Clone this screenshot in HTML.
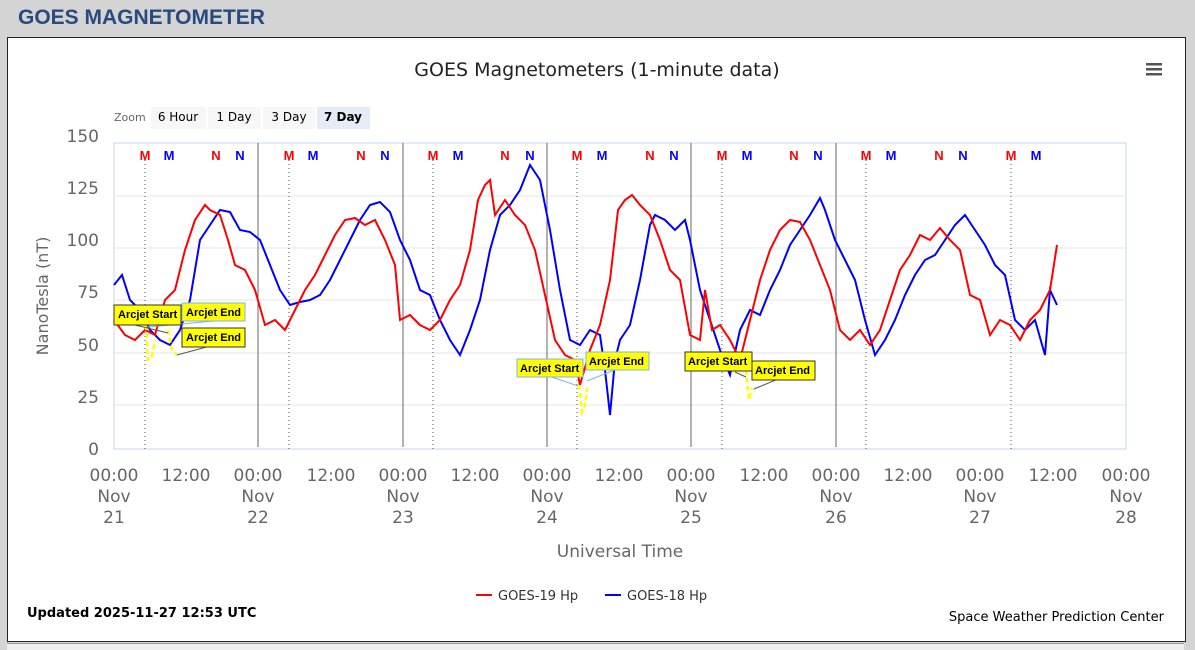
<!DOCTYPE html>
<html><head><meta charset="utf-8"><style>
body{margin:0;width:1195px;height:649px;background:#d4d4d4;overflow:hidden;font-family:"Liberation Sans",sans-serif}
.hdr{position:absolute;left:18px;top:6px;font:bold 21px "Liberation Sans",sans-serif;color:#2a4a7f}
.panel{position:absolute;left:7px;top:37px;width:1177px;height:603px;background:#fff;border:1px solid #222}
svg{position:absolute;left:0;top:0}
.t{font-family:"DejaVu Sans",sans-serif}
</style></head><body>
<div class="hdr">GOES MAGNETOMETER</div>
<div class="panel"></div>
<div style="position:absolute;left:7px;top:643px;width:1177px;height:6px;background:#eee;border-top:1px solid #999"></div>
<svg width="1195" height="649" viewBox="0 0 1195 649">
<text x="597" y="76" text-anchor="middle" class="t" font-size="19" fill="#222">GOES Magnetometers (1-minute data)</text>
<g fill="#555"><rect x="1146" y="63" width="16" height="2.5"/><rect x="1146" y="68" width="16" height="2.5"/><rect x="1146" y="73" width="16" height="2.5"/></g>
<text x="114" y="121" class="t" font-size="11" fill="#666">Zoom</text>
<rect x="151" y="107" width="55" height="22" fill="#f7f7f7"/><text x="178" y="121" text-anchor="middle" class="t" font-size="12">6 Hour</text>
<rect x="208" y="107" width="53" height="22" fill="#f7f7f7"/><text x="234" y="121" text-anchor="middle" class="t" font-size="12">1 Day</text>
<rect x="263" y="107" width="52" height="22" fill="#f7f7f7"/><text x="289" y="121" text-anchor="middle" class="t" font-size="12">3 Day</text>
<rect x="317" y="107" width="53" height="22" fill="#e6ebf5"/><text x="343" y="121" text-anchor="middle" class="t" font-size="12" font-weight="bold">7 Day</text>
<rect x="114" y="143" width="1012" height="306" fill="none" stroke="#ccd6eb"/>
<g stroke="#e6e6e6"><line x1="114" x2="1126" y1="196" y2="196"/><line x1="114" x2="1126" y1="248" y2="248"/><line x1="114" x2="1126" y1="300" y2="300"/><line x1="114" x2="1126" y1="353" y2="353"/><line x1="114" x2="1126" y1="405" y2="405"/></g>
<g font-size="17" fill="#666" class="t" text-anchor="end"><text x="99" y="142">150</text><text x="99" y="194">125</text><text x="99" y="246">100</text><text x="99" y="298">75</text><text x="99" y="351">50</text><text x="99" y="403">25</text><text x="99" y="455">0</text></g>
<text transform="translate(48,296) rotate(-90)" text-anchor="middle" class="t" font-size="16" fill="#666">NanoTesla (nT)</text>
<g stroke="#666"><line x1="258" x2="258" y1="143" y2="447"/><line x1="403" x2="403" y1="143" y2="447"/><line x1="547" x2="547" y1="143" y2="447"/><line x1="691" x2="691" y1="143" y2="447"/><line x1="836" x2="836" y1="143" y2="447"/></g>
<g stroke="#555" stroke-dasharray="1,3"><line x1="145" x2="145" y1="160" y2="449"/><line x1="289" x2="289" y1="160" y2="449"/><line x1="433" x2="433" y1="160" y2="449"/><line x1="577" x2="577" y1="160" y2="449"/><line x1="722" x2="722" y1="160" y2="449"/><line x1="866" x2="866" y1="160" y2="449"/><line x1="1011" x2="1011" y1="160" y2="449"/></g>
<g font-size="13" font-weight="bold" text-anchor="middle" font-family="Liberation Sans">
<g fill="#f00"><text x="145" y="160">M</text><text x="289" y="160">M</text><text x="433" y="160">M</text><text x="577" y="160">M</text><text x="722" y="160">M</text><text x="866" y="160">M</text><text x="1011" y="160">M</text>
<text x="216" y="160">N</text><text x="361" y="160">N</text><text x="505" y="160">N</text><text x="650" y="160">N</text><text x="794" y="160">N</text><text x="939" y="160">N</text></g>
<g fill="#00f"><text x="169" y="160">M</text><text x="313" y="160">M</text><text x="458" y="160">M</text><text x="602" y="160">M</text><text x="747" y="160">M</text><text x="891" y="160">M</text><text x="1036" y="160">M</text>
<text x="240" y="160">N</text><text x="385" y="160">N</text><text x="530" y="160">N</text><text x="674" y="160">N</text><text x="818" y="160">N</text><text x="963" y="160">N</text></g></g>
<polyline fill="none" stroke="#00f" stroke-width="2" points="114,285 122,275 130,300 140,310 150,330 160,340 170,345 180,330 190,300 200,240 210,225 220,210 230,212 240,230 250,232 260,240 270,265 280,290 290,305 300,302 310,300 320,295 330,280 340,260 350,240 360,220 370,205 380,202 390,212 400,240 410,260 420,290 430,295 440,320 450,340 460,355 470,330 480,300 490,250 500,215 510,205 520,190 530,165 540,180 550,230 560,290 570,340 580,345 590,330 600,335 605,370 610,415 615,360 620,340 630,325 640,280 650,225 655,215 665,220 675,230 685,220 690,240 700,290 710,320 720,350 730,375 740,330 750,310 760,315 770,290 780,270 790,245 800,230 810,215 820,198 825,210 835,240 845,260 855,280 865,320 875,355 885,340 895,320 905,295 915,275 925,260 935,255 945,240 955,225 965,215 975,230 985,245 995,265 1005,275 1015,320 1025,330 1035,320 1045,355 1050,290 1057,305"/>
<polyline fill="none" stroke="#f00" stroke-width="2" points="114,320 125,335 135,340 145,330 155,335 165,300 175,290 185,250 195,220 205,205 210,210 220,215 228,240 235,265 245,270 255,290 265,325 275,320 285,330 295,310 305,290 315,275 325,255 335,235 345,220 355,218 365,225 375,220 385,240 395,265 400,320 410,315 420,325 430,330 440,320 450,300 460,285 470,250 478,200 485,185 490,180 495,215 505,200 515,215 525,225 535,250 545,295 555,340 565,355 575,360 580,385 590,350 600,325 610,280 618,210 625,200 632,195 640,205 650,215 660,240 670,270 680,280 690,335 700,340 705,290 712,330 720,325 730,340 740,360 750,320 760,280 770,250 780,230 790,220 800,222 810,240 820,265 830,290 840,330 850,340 860,330 870,345 880,330 890,300 900,270 910,255 920,235 930,240 940,228 950,240 960,250 970,295 980,300 990,335 1000,320 1010,325 1020,340 1030,320 1040,310 1050,290 1057,245"/>
<g fill="none" stroke="#ff0" stroke-width="2.5" stroke-dasharray="5,3"><polyline points="146,325 148,360 152,357 155,340"/><polyline points="168,330 172,350 177,355"/><polyline points="579,385 582,412 585,405 587,388"/><polyline points="746,370 749,400 752,388"/></g>
<g stroke="#555" fill="none"><line x1="135" y1="325" x2="168" y2="333"/><line x1="177" y1="355" x2="214" y2="345"/><line x1="735" y1="372" x2="746" y2="377"/><line x1="754" y1="389" x2="783" y2="377"/></g>
<g stroke="#7cb5ec" fill="none"><line x1="148" y1="327" x2="214" y2="321"/><line x1="549" y1="376" x2="578" y2="386"/><line x1="587" y1="381" x2="617" y2="369"/></g>
<g font-family="Liberation Sans" font-size="11" font-weight="bold">
<rect x="114" y="305" width="67" height="20" fill="#ff0" stroke="#333"/><text x="118" y="318">Arcjet Start</text>
<rect x="182" y="303" width="63" height="18" fill="#ff0" stroke="#7cb5ec"/><text x="186" y="316">Arcjet End</text>
<rect x="182" y="328" width="63" height="19" fill="#ff0" stroke="#333"/><text x="186" y="341">Arcjet End</text>
<rect x="517" y="359" width="66" height="18" fill="#ff0" stroke="#7cb5ec"/><text x="520" y="372">Arcjet Start</text>
<rect x="586" y="352" width="63" height="18" fill="#ff0" stroke="#7cb5ec"/><text x="589" y="365">Arcjet End</text>
<rect x="685" y="352" width="67" height="19" fill="#ff0" stroke="#333"/><text x="688" y="365">Arcjet Start</text>
<rect x="752" y="361" width="63" height="19" fill="#ff0" stroke="#333"/><text x="755" y="374">Arcjet End</text></g>
<g font-size="17" fill="#666" class="t" text-anchor="middle">
<text x="114" y="481">00:00</text><text x="114" y="502">Nov</text><text x="114" y="523">21</text>
<text x="186" y="481">12:00</text>
<text x="258" y="481">00:00</text><text x="258" y="502">Nov</text><text x="258" y="523">22</text>
<text x="331" y="481">12:00</text>
<text x="403" y="481">00:00</text><text x="403" y="502">Nov</text><text x="403" y="523">23</text>
<text x="475" y="481">12:00</text>
<text x="547" y="481">00:00</text><text x="547" y="502">Nov</text><text x="547" y="523">24</text>
<text x="619" y="481">12:00</text>
<text x="691" y="481">00:00</text><text x="691" y="502">Nov</text><text x="691" y="523">25</text>
<text x="764" y="481">12:00</text>
<text x="836" y="481">00:00</text><text x="836" y="502">Nov</text><text x="836" y="523">26</text>
<text x="908" y="481">12:00</text>
<text x="980" y="481">00:00</text><text x="980" y="502">Nov</text><text x="980" y="523">27</text>
<text x="1053" y="481">12:00</text>
<text x="1126" y="481">00:00</text><text x="1126" y="502">Nov</text><text x="1126" y="523">28</text>
<text x="620" y="557">Universal Time</text></g>
<line x1="476" y1="595" x2="492" y2="595" stroke="#f00" stroke-width="2"/><text x="498" y="600" class="t" font-size="13" fill="#333">GOES-19 Hp</text>
<line x1="605" y1="595" x2="621" y2="595" stroke="#00f" stroke-width="2"/><text x="627" y="600" class="t" font-size="13" fill="#333">GOES-18 Hp</text>
<text x="27" y="617" class="t" font-size="13" font-weight="bold" fill="#000">Updated 2025-11-27 12:53 UTC</text>
<text x="1164" y="621" text-anchor="end" class="t" font-size="13" fill="#000">Space Weather Prediction Center</text>
</svg>
</body></html>
